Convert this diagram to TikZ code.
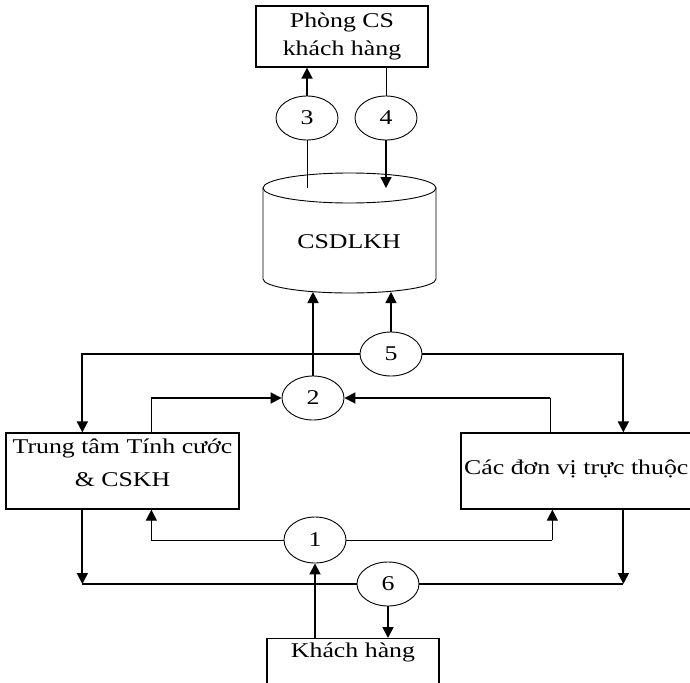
\documentclass[tikz,border=0pt]{standalone}
\usepackage{fontspec}
\setmainfont{Liberation Serif}
\usetikzlibrary{shapes.geometric,arrows.meta}
\newcommand{\wtxt}[1]{\scalebox{1.23}[1]{#1}}
\tikzset{
  box/.style={draw,line width=1.3pt},
  ell/.style={ellipse,draw,line width=0.9pt,minimum width=62pt,minimum height=44pt,inner sep=0pt},
  thk/.style={line width=1.8pt},
  mid/.style={line width=1.3pt},
  thn/.style={line width=0.9pt},
  arr/.style={-{Triangle[length=11pt,width=11pt]}},
}
\begin{document}
\begin{tikzpicture}[x=1pt,y=-1pt,font=\fontsize{21}{33}\selectfont]
        \clip (0,0) rectangle (690,682);
        \fill[white] (0,0) rectangle (690,682);

        \node[box,minimum width=172pt,minimum height=61pt,align=center,font=\fontsize{21}{28}\selectfont] (phong) at (342,36.5) {\wtxt{Phòng CS}\\\wtxt{khách hàng}};

        % CSDLKH
        \draw[thn] (263,188) -- (263,279) arc[start angle=180,end angle=0,x radius=86.5,y radius=14] -- (436,188);
        \draw[thn] (349.5,188) ellipse[x radius=86.5,y radius=15];
        \node (db) at (349,242) {\wtxt{CSDLKH}};
        \coordinate (dbtop) at (349.5,188);
        \coordinate (dbbot) at (349.5,292);

        \node[ell] (e3) at (307,118) {\wtxt{3}};
        \node[ell] (e4) at (386,118) {\wtxt{4}};
        \node[ell] (e5) at (391,354) {\wtxt{5}};
        \node[ell] (e2) at (313,398) {\wtxt{2}};
        \node[ell,minimum height=46pt] (e1) at (315,540) {\wtxt{1}};
        \node[ell] (e6) at (388,584) {\wtxt{6}};

        \node[box,minimum width=233pt,minimum height=76pt,align=center,text depth=16pt] (trung) at (122.5,471) {\wtxt{Trung tâm Tính cước}\\\wtxt{\& CSKH}};
        \node[box,minimum width=260pt,minimum height=76pt] (cac) at (591,471) {};
        \node[anchor=west,inner sep=0pt] (cactxt) at (464,469) {\wtxt{Các đơn vị trực thuộc}};
        \node[box,anchor=north,minimum width=172pt,inner ysep=4pt,text depth=40pt] (khach) at (353,638) {\wtxt{Khách hàng}};

        \draw[thn] (dbtop -| e3) -- (e3.south);
        \draw[thk,arr] (e3.north) -- (e3.north |- phong.south);
        \draw[thn] (e4.north |- phong.south) -- (e4.north);
        \draw[mid,arr] (e4.south) -- (e4.south |- dbtop);
        \draw[thk,arr] (e2.north) -- (e2.north |- dbbot);
        \draw[mid,arr] (e5.north) -- (e5.north |- dbbot);

        \draw[thk,arr] (e5.west) -| ([xshift=77pt]trung.north west);
        \draw[thk,arr] (e5.east) -| ([xshift=163pt]cac.north west);

        \coordinate (t2) at ([xshift=146pt]trung.north west);
        \coordinate (c2) at ([xshift=90pt]cac.north west);
        \draw[thn] (t2) -- (t2 |- e2.west);
        \draw[thk,arr] (t2 |- e2.west) -- (e2.west);
        \draw[thn] (c2) -- (c2 |- e2.east);
        \draw[thk,arr] (c2 |- e2.east) -- (e2.east);

        \coordinate (t1) at ([xshift=146pt]trung.south west);
        \coordinate (c1) at ([xshift=92pt]cac.south west);
        \draw[thn] (e1.west) -- (t1 |- e1.west);
        \draw[mid,arr] (t1 |- e1.west) -- (t1);
        \draw[thn] (e1.east) -- (c1 |- e1.east);
        \draw[mid,arr] (c1 |- e1.east) -- (c1);

        \coordinate (t3) at ([xshift=77pt]trung.south west);
        \coordinate (c3) at ([xshift=163pt]cac.south west);
        \draw[thk,arr] (t3) -- (t3 |- e6.west);
        \draw[thk] (t3 |- e6.west) -- (e6.west);
        \draw[thk] (e6.east) -- (c3 |- e6.east);
        \draw[thk,arr] (c3) -- (c3 |- e6.east);

        \draw[thk,arr] (khach.north -| e1.south) -- (e1.south);
        \draw[thk,arr] (e6.south) -- (e6.south |- khach.north);
\end{tikzpicture}
\end{document}
